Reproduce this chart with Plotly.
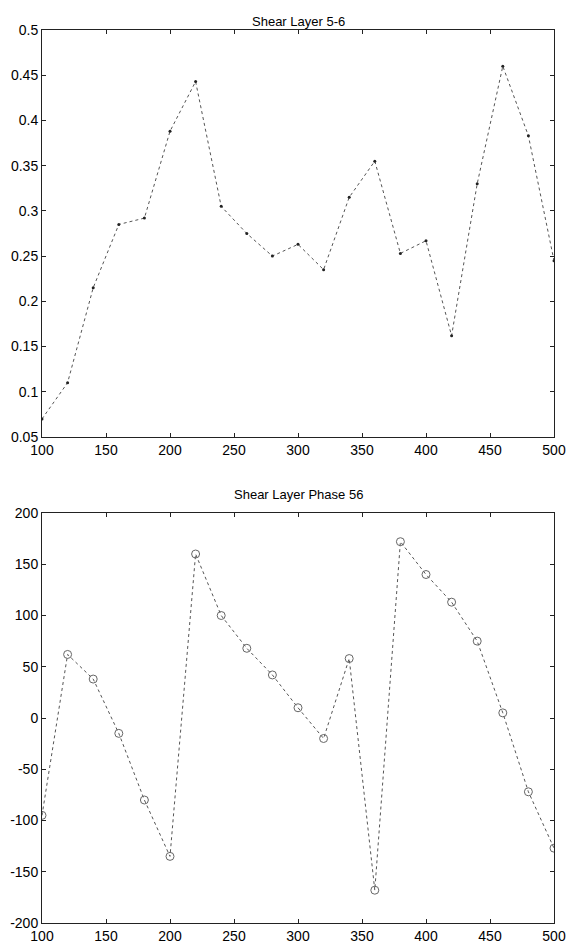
import plotly.graph_objects as go

x_vals = [100, 120, 140, 160, 180, 200, 220, 240, 260, 280, 300,
          320, 340, 360, 380, 400, 420, 440, 460, 480, 500]
shear_56 = [0.07, 0.11, 0.215, 0.285, 0.292, 0.388, 0.443, 0.305, 0.275, 0.25, 0.263,
            0.235, 0.315, 0.355, 0.253, 0.267, 0.162, 0.33, 0.46, 0.383, 0.245]
phase_56 = [-95, 62, 38, -15, -80, -135, 160, 100, 68, 42, 10,
            -20, 58, -168, 172, 140, 113, 75, 5, -72, -127]

x_ticks = [100, 150, 200, 250, 300, 350, 400, 450, 500]
y1_ticks = [0.05, 0.1, 0.15, 0.2, 0.25, 0.3, 0.35, 0.4, 0.45, 0.5]
y1_labels = ["0.05", "0.1", "0.15", "0.2", "0.25", "0.3", "0.35", "0.4", "0.45", "0.5"]
y2_ticks = [-200, -150, -100, -50, 0, 50, 100, 150, 200]
y2_labels = ["-200", "-150", "-100", "-50", "0", "50", "100", "150", "200"]

title_top = "Shear Layer 5-6"
title_bot = "Shear Layer Phase 56"

fig = go.Figure()
fig.add_trace(go.Scatter(x=x_vals, y=shear_56, mode="lines+markers",
                         line=dict(color="#555", width=1, dash="dot"),
                         marker=dict(symbol="circle", size=3, color="#222"),
                         xaxis="x", yaxis="y", showlegend=False))
fig.add_trace(go.Scatter(x=x_vals, y=phase_56, mode="lines+markers",
                         line=dict(color="#555", width=1, dash="dot"),
                         marker=dict(symbol="circle-open", size=8, color="#666", line=dict(width=1)),
                         xaxis="x2", yaxis="y2", showlegend=False))

H = 952.0
font = dict(family="Liberation Sans, Arial, sans-serif", size=14, color="black")
axis_common = dict(showline=True, mirror="ticks", linecolor="#222", linewidth=1,
                   ticks="inside", ticklen=4, tickcolor="#222", showgrid=False,
                   zeroline=False, tickfont=font, automargin=False)

fig.update_layout(
    width=568, height=952,
    margin=dict(l=42, r=14, t=0, b=0),
    paper_bgcolor="white", plot_bgcolor="white",
    font=font,
    xaxis=dict(domain=[0, 1], range=[100, 500], tickvals=x_ticks,
               anchor="y", **axis_common),
    yaxis=dict(domain=[1 - 437 / H, 1 - 30 / H], range=[0.05, 0.5],
               tickvals=y1_ticks, ticktext=y1_labels,
               anchor="x", **axis_common),
    xaxis2=dict(domain=[0, 1], range=[100, 500], tickvals=x_ticks,
                anchor="y2", **axis_common),
    yaxis2=dict(domain=[1 - 923 / H, 1 - 513 / H], range=[-200, 200],
                tickvals=y2_ticks, ticktext=y2_labels,
                anchor="x2", **axis_common),
    annotations=[
        dict(text=title_top, x=0.5, y=1 - 12 / H, xref="paper", yref="paper",
             showarrow=False, font=dict(family="Liberation Sans, Arial, sans-serif", size=13, color="black")),
        dict(text=title_bot, x=0.5, y=1 - 494 / H, xref="paper", yref="paper",
             showarrow=False, font=dict(family="Liberation Sans, Arial, sans-serif", size=13, color="black")),
    ],
)

fig.write_html("out.html")
